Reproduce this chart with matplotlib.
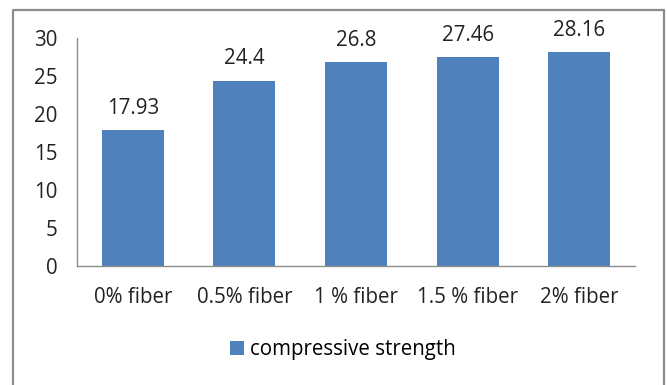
import matplotlib
matplotlib.use("Agg")
import matplotlib.pyplot as plt
from matplotlib.lines import Line2D

# data
categories = ["0% fiber", "0.5% fiber", "1 % fiber", "1.5 % fiber", "2% fiber"]
strength = [17.93, 24.4, 26.8, 27.46, 28.16]
strength_labels = ["17.93", "24.4", "26.8", "27.46", "28.16"]
series_name = "compressive strength"

plt.rcParams["font.family"] = ["Open Sans", "DejaVu Sans"]
FS = 14.8

W, H = 667, 385
fig = plt.figure(figsize=(W / 100, H / 100), dpi=100)

# plot area in pixels: x 77..635, y 38..266
ax = fig.add_axes([77 / W, 1 - 266 / H, (635 - 77) / W, (266 - 38) / H])
bars = ax.bar(range(len(categories)), strength, width=0.556, color="#4F81BD",
              label=series_name)
ax.set_xlim(-0.5, len(categories) - 0.5)
ax.set_ylim(0, 30)
ax.set_yticks(range(0, 31, 5))
ax.set_xticks(range(len(categories)))
ax.set_xticklabels(categories)
ax.tick_params(axis="both", length=0, labelsize=FS, colors="#222222")
ax.tick_params(axis="x", pad=15)
ax.tick_params(axis="y", pad=14)

for s in ["top", "right"]:
    ax.spines[s].set_visible(False)
for s in ["left", "bottom"]:
    ax.spines[s].set_color("#8c8c8c")
    ax.spines[s].set_linewidth(1.0)

for b, lab in zip(bars, strength_labels):
    ax.annotate(lab, (b.get_x() + b.get_width() / 2, b.get_height()),
                xytext=(0, 8), textcoords="offset points",
                ha="center", va="bottom", fontsize=FS, color="#222222")

fig.legend(handles=[bars], labels=[series_name], loc="center",
           bbox_to_anchor=(343 / W, 1 - 350 / H), frameon=False,
           fontsize=FS, handlelength=0.65, handleheight=0.65,
           handletextpad=0.3)

# outer chart border (open at the bottom)
x0, x1, y0, y1 = 13.5 / W, 664 / W, 1 - 9.5 / H, 0.0
fig.add_artist(Line2D([x0, x0, x1, x1], [y1, y0, y0, y1],
                      transform=fig.transFigure, color="#8c8c8c", lw=1.6))

fig.savefig("out.png", dpi=100)
